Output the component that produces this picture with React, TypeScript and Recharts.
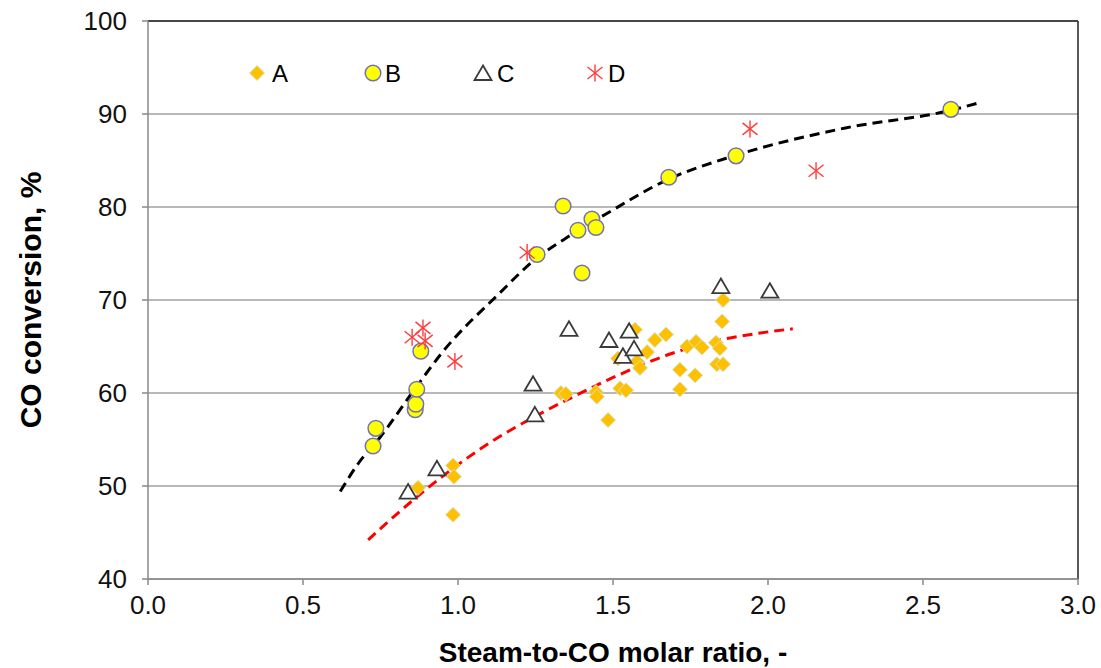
import {
  ComposedChart,
  Scatter,
  Line,
  XAxis,
  YAxis,
  CartesianGrid,
  ReferenceLine,
  Legend,
} from "recharts";

// measured points [steam-to-CO ratio, CO conversion %]
const seriesA = [
  [0.871, 49.8], [0.984, 52.2], [0.987, 51.0], [0.984, 46.9], [1.332, 60.0],
  [1.348, 59.9], [1.445, 60.1], [1.448, 59.6], [1.484, 57.1], [1.516, 63.7],
  [1.523, 60.5], [1.542, 60.3], [1.571, 66.8], [1.577, 63.4], [1.587, 62.7],
  [1.61, 64.4], [1.635, 65.7], [1.671, 66.3], [1.716, 62.5], [1.716, 60.4],
  [1.739, 65.0], [1.768, 65.5], [1.765, 61.9], [1.787, 64.9], [1.832, 65.4],
  [1.845, 64.8], [1.835, 63.1], [1.855, 63.1], [1.852, 67.7], [1.855, 70.0],
];
const seriesB = [
  [0.726, 54.3], [0.735, 56.2], [0.862, 58.2], [0.864, 58.8], [0.867, 60.4],
  [0.88, 64.5], [1.255, 74.9], [1.339, 80.1], [1.387, 77.5], [1.4, 72.9],
  [1.432, 78.7], [1.445, 77.8], [1.68, 83.2], [1.897, 85.5], [2.59, 90.5],
];
const seriesC = [
  [0.839, 49.4], [0.932, 51.9], [1.242, 61.0], [1.248, 57.7], [1.358, 66.9],
  [1.487, 65.7], [1.532, 64.0], [1.552, 66.7], [1.568, 64.8], [1.848, 71.5],
  [2.006, 71.0],
];
const seriesD = [
  [0.852, 66.0], [0.887, 67.0], [0.894, 65.6], [0.99, 63.4], [1.223, 75.1],
  [1.942, 88.4], [2.155, 83.9],
];

// trend lines
const trendB = [
  [0.62, 49.4], [0.68, 52.5], [0.75, 55.3], [0.86, 60.4], [0.95, 64.4],
  [1.13, 70.6], [1.25, 74.4], [1.36, 76.9], [1.48, 79.3], [1.68, 83.0],
  [1.89, 85.5], [2.25, 88.5], [2.59, 90.4], [2.69, 91.3],
];
const trendA = [
  [0.71, 44.2], [0.845, 48.2], [0.984, 51.9], [1.1, 54.6], [1.25, 57.5],
  [1.384, 59.8], [1.516, 61.9], [1.694, 64.3], [1.845, 65.7], [1.965, 66.4],
  [2.08, 66.9],
];

const xTicks = [0, 0.5, 1, 1.5, 2, 2.5, 3];
const yTicks = [40, 50, 60, 70, 80, 90, 100];
const seriesNames = ["A", "B", "C", "D"];

const toPts = (arr: number[][]) => arr.map(([x, y]) => ({ x, y }));

const FONT = "'Liberation Sans', Arial, sans-serif";

const Diamond = ({ cx, cy }: any) => {
  const r = 7.5;
  return (
    <polygon
      points={`${cx},${cy - r} ${cx + r},${cy} ${cx},${cy + r} ${cx - r},${cy}`}
      fill="#FFC000"
      stroke="#D6E3C4"
      strokeWidth={1}
    />
  );
};

const Dot = ({ cx, cy }: any) => (
  <circle cx={cx} cy={cy} r={7.8} fill="#FFFF00" stroke="#7272B4" strokeWidth={1.5} />
);

const Tri = ({ cx, cy }: any) => (
  <polygon
    points={`${cx},${cy - 7.5} ${cx + 8.5},${cy + 7} ${cx - 8.5},${cy + 7}`}
    fill="#fff"
    stroke="#3a3a3a"
    strokeWidth={1.8}
  />
);

const Star = ({ cx, cy }: any) => (
  <g stroke="#FF3B3B" strokeWidth={1.4}>
    <line x1={cx} y1={cy - 8.5} x2={cx} y2={cy + 8.5} />
    <line x1={cx - 7.5} y1={cy - 6} x2={cx + 7.5} y2={cy + 6} />
    <line x1={cx - 7.5} y1={cy + 6} x2={cx + 7.5} y2={cy - 6} />
  </g>
);

const shapes = [Diamond, Dot, Tri, Star];

const YTick = ({ x, y, payload }: any) => (
  <text x={x} y={y} dy="0.36em" textAnchor="end" fontSize={26} fontFamily={FONT} fill="#111">
    {payload.value}
  </text>
);

const XTick = ({ x, y, payload }: any) => (
  <text x={x} y={y} dy="0.71em" textAnchor="middle" fontSize={26} fontFamily={FONT} fill="#111">
    {Number(payload.value).toFixed(1)}
  </text>
);

const LegendBox = () => {
  const markX = [17, 133, 243, 355];
  const textX = [32, 145, 257, 368];
  return (
    <svg width={420} height={28} style={{ overflow: "visible", display: "block" }}>
      {seriesNames.map((n, i) => {
        const S = shapes[i];
        return (
          <g key={n}>
            <S cx={markX[i]} cy={13} />
            <text x={textX[i]} y={21.5} fontSize={24} fontFamily={FONT} fill="#000">
              {n}
            </text>
          </g>
        );
      })}
    </svg>
  );
};

export default function App() {
  return (
    <div style={{ position: "absolute", left: 0, top: 0, background: "#fff" }}>
      <ComposedChart
        width={1101}
        height={668}
        margin={{ top: 21, right: 23, left: 0, bottom: 0 }}
      >
        <CartesianGrid vertical={false} stroke="#A0A0A0" strokeWidth={1.5} />
        <XAxis
          type="number"
          dataKey="x"
          domain={[0, 3]}
          ticks={xTicks}
          height={89}
          stroke="#888"
          strokeWidth={1.5}
          tickSize={6}
          tickMargin={11}
          tick={<XTick />}
          label={{
            value: "Steam-to-CO molar ratio, -",
            position: "insideBottom",
            offset: 6,
            style: { fontSize: 28, fontWeight: "bold", fontFamily: FONT, fill: "#000" },
          }}
        />
        <YAxis
          type="number"
          dataKey="y"
          domain={[40, 100]}
          ticks={yTicks}
          width={148}
          stroke="#888"
          strokeWidth={1.5}
          tickSize={6}
          tickMargin={15}
          tick={<YTick />}
          label={{
            value: "CO conversion, %",
            angle: -90,
            position: "insideLeft",
            offset: 30,
            style: {
              fontSize: 30,
              fontWeight: "bold",
              fontFamily: FONT,
              fill: "#000",
              textAnchor: "middle",
            },
          }}
        />
        <ReferenceLine y={100} stroke="#222" strokeWidth={1.5} />
        <ReferenceLine x={3} stroke="#222" strokeWidth={1.5} />
        <Legend
          content={<LegendBox />}
          wrapperStyle={{ position: "absolute", left: 240, top: 60, width: 420, height: 0 }}
        />
        <Scatter name="A" data={toPts(seriesA)} shape={<Diamond />} isAnimationActive={false} />
        <Scatter name="B" data={toPts(seriesB)} shape={<Dot />} isAnimationActive={false} />
        <Scatter name="C" data={toPts(seriesC)} shape={<Tri />} isAnimationActive={false} />
        <Scatter name="D" data={toPts(seriesD)} shape={<Star />} isAnimationActive={false} />
        <Line
          data={toPts(trendA)}
          dataKey="y"
          type="monotone"
          stroke="#FF0000"
          strokeWidth={3}
          strokeDasharray="10 6"
          dot={false}
          legendType="none"
          isAnimationActive={false}
        />
        <Line
          data={toPts(trendB)}
          dataKey="y"
          type="monotone"
          stroke="#000"
          strokeWidth={3}
          strokeDasharray="10 6"
          dot={false}
          legendType="none"
          isAnimationActive={false}
        />
      </ComposedChart>
    </div>
  );
}
